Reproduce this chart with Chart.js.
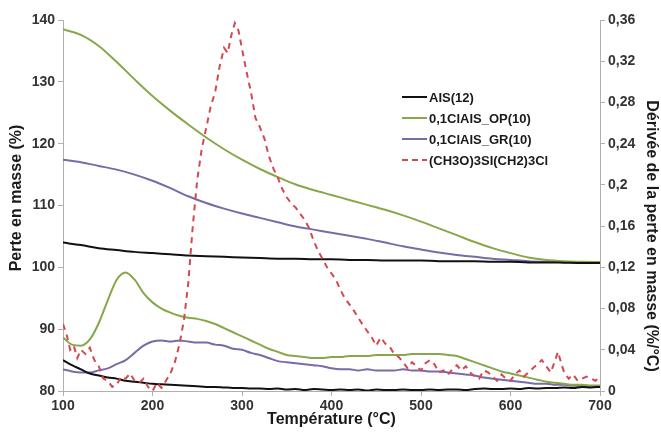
<!DOCTYPE html>
<html><head><meta charset="utf-8">
<script src="https://cdn.jsdelivr.net/npm/chart.js@4.4.0/dist/chart.umd.min.js"></script>
<style>html,body{margin:0;padding:0;background:#fff;}#wrap{width:661px;height:434px;}</style>
</head><body><div id="wrap"><canvas id="c" width="661" height="434"></canvas></div>
<script>
// ---- Data ----
const seriesNames = ["AIS(12)", "0,1ClAIS_OP(10)", "0,1ClAIS_GR(10)", "(CH3O)3SI(CH2)3Cl"];
const axisTitles = ["Température (°C)", "Perte en masse (%)", "Dérivée de la perte en masse (%/°C)"];
const xTicks = [100, 200, 300, 400, 500, 600, 700];
const leftTicks = [80, 90, 100, 110, 120, 130, 140];
const rightTicks = [0, 0.04, 0.08, 0.12, 0.16, 0.2, 0.24, 0.28, 0.32, 0.36];

// mass-loss curves (left axis), temperature every 20 °C
const tMass = [100,120,140,160,180,200,220,240,260,280,300,320,340,360,380,400,420,440,460,480,500,520,540,560,580,600,620,640,660,680,700];
const massAIS = [104.0,103.6,103.1,102.8,102.5,102.3,102.1,101.9,101.8,101.7,101.6,101.5,101.4,101.4,101.3,101.3,101.2,101.2,101.1,101.1,101.1,101.0,101.0,101.0,100.9,100.9,100.8,100.8,100.75,100.7,100.7];
const massOP  = [138.5,137.6,135.8,133.2,130.4,127.7,125.3,123.1,121.0,119.1,117.4,115.9,114.6,113.4,112.5,111.7,110.9,110.1,109.3,108.4,107.4,106.3,105.2,104.1,103.1,102.3,101.6,101.2,101.0,100.9,100.85];
const massGR  = [117.4,117.0,116.4,115.8,115.0,114.0,112.8,111.5,110.4,109.5,108.7,108.0,107.3,106.6,106.1,105.6,105.1,104.6,104.0,103.4,102.9,102.4,102.0,101.7,101.4,101.2,101.0,100.9,100.85,100.8,100.75];

// derivative curves (right axis), temperature every 10 °C
const tDeriv = [100,110,120,130,140,150,160,170,180,190,200,210,220,230,240,250,260,270,280,290,300,310,320,330,340,350,360,370,380,390,400,410,420,430,440,450,460,470,480,490,500,510,520,530,540,550,560,570,580,590,600,610,620,630,640,650,660,670,680,690,700];
const derivAIS = [0.030,0.025,0.021,0.017,0.015,0.013,0.012,0.010,0.009,0.008,0.007,0.0065,0.006,0.0055,0.005,0.0045,0.004,0.004,0.0035,0.003,0.003,0.0025,0.0025,0.002,0.0025,0.0015,0.002,0.001,0.002,0.0015,0.001,0.0015,0.001,0.0015,0.0005,0.0015,0.001,0.001,0.0015,0.001,0.001,0.0015,0.001,0.0015,0.0015,0.001,0.002,0.0025,0.002,0.002,0.0025,0.002,0.003,0.0025,0.003,0.003,0.0035,0.003,0.004,0.0035,0.004];
const derivOP = [0.052,0.045,0.044,0.050,0.066,0.088,0.108,0.115,0.108,0.095,0.086,0.080,0.076,0.073,0.071,0.070,0.068,0.065,0.061,0.057,0.053,0.049,0.045,0.041,0.038,0.035,0.034,0.033,0.032,0.032,0.033,0.033,0.034,0.034,0.034,0.035,0.035,0.035,0.035,0.036,0.036,0.036,0.036,0.035,0.034,0.031,0.028,0.025,0.022,0.019,0.017,0.015,0.013,0.011,0.009,0.008,0.007,0.006,0.006,0.005,0.005];
const derivGR = [0.021,0.019,0.018,0.018,0.020,0.022,0.026,0.030,0.037,0.044,0.048,0.049,0.048,0.049,0.048,0.047,0.047,0.045,0.044,0.041,0.040,0.037,0.035,0.032,0.029,0.028,0.027,0.026,0.025,0.024,0.022,0.021,0.021,0.020,0.021,0.020,0.020,0.020,0.021,0.020,0.020,0.019,0.019,0.018,0.017,0.016,0.015,0.013,0.012,0.011,0.010,0.009,0.008,0.007,0.007,0.006,0.006,0.005,0.005,0.005,0.005];

// silane derivative (right axis)
const tSilane = [100,104,108,112,116,120,125,130,135,140,145,150,155,160,165,170,175,180,185,190,195,200,205,210,215,220,225,230,235,240,245,250,255,260,265,270,275,280,284,288,292,296,300,305,310,315,320,325,330,335,340,345,350,355,360,365,370,375,380,385,390,395,400,405,410,415,420,425,430,435,440,445,450,455,460,465,470,475,480,485,490,495,500,505,510,515,520,525,530,535,540,545,550,555,560,565,570,575,580,585,590,595,600,605,610,615,620,625,630,635,640,645,650,653,657,660,665,670,675,680,685,690,695,700];
const derivSilane = [0.065,0.055,0.040,0.044,0.032,0.040,0.036,0.042,0.030,0.024,0.012,0.010,0.004,0.006,0.014,0.012,0.017,0.010,0.008,0.012,0.004,0.000,0.008,0.003,0.010,0.017,0.028,0.045,0.068,0.105,0.160,0.205,0.235,0.255,0.276,0.290,0.315,0.333,0.328,0.345,0.357,0.350,0.332,0.310,0.290,0.265,0.256,0.245,0.228,0.216,0.207,0.196,0.188,0.182,0.178,0.172,0.166,0.158,0.146,0.136,0.128,0.120,0.114,0.108,0.098,0.090,0.084,0.078,0.071,0.064,0.058,0.052,0.044,0.052,0.046,0.043,0.036,0.033,0.028,0.022,0.028,0.024,0.020,0.027,0.030,0.026,0.018,0.020,0.016,0.021,0.025,0.020,0.024,0.018,0.014,0.012,0.020,0.018,0.014,0.010,0.016,0.012,0.010,0.016,0.020,0.014,0.018,0.022,0.026,0.030,0.024,0.018,0.030,0.038,0.026,0.018,0.012,0.016,0.010,0.012,0.014,0.012,0.010,0.014];

// ---- Chart ----
const colAIS = '#111111', colOP = '#86a84a', colGR = '#7a6aa8', colSil = '#d24a50';
const pts = (xs, ys) => xs.map((x, i) => ({x: x, y: ys[i]}));
const fontFam = "'Liberation Sans', Arial, sans-serif";

const legendPlugin = {
  id: 'customLegend',
  afterDraw(chart) {
    const ctx = chart.ctx;
    const items = [
      {label: seriesNames[0], color: colAIS, dash: []},
      {label: seriesNames[1], color: colOP, dash: []},
      {label: seriesNames[2], color: colGR, dash: []},
      {label: seriesNames[3], color: colSil, dash: [6, 4]}
    ];
    const x0 = 402, lineW = 25, y0 = 97, dy = 21;
    ctx.save();
    ctx.font = "bold 13px " + fontFam;
    ctx.textBaseline = 'middle';
    ctx.textAlign = 'left';
    items.forEach((it, i) => {
      const y = y0 + i * dy;
      ctx.beginPath();
      ctx.setLineDash(it.dash);
      ctx.strokeStyle = it.color;
      ctx.lineWidth = 2;
      ctx.moveTo(x0, y); ctx.lineTo(x0 + lineW, y);
      ctx.stroke();
      ctx.setLineDash([]);
      ctx.fillStyle = '#1a1a1a';
      ctx.fillText(it.label, x0 + lineW + 2, y + 1);
    });
    // vertical axis titles
    ctx.font = "bold 16px " + fontFam;
    ctx.textAlign = 'center';
    ctx.fillStyle = '#1a1a1a';
    ctx.save();
    ctx.translate(17, 198);
    ctx.rotate(-Math.PI / 2);
    ctx.fillText(axisTitles[1], 0, 0);
    ctx.restore();
    ctx.save();
    ctx.translate(651, 236);
    ctx.rotate(Math.PI / 2);
    ctx.fillText(axisTitles[2], 0, 0);
    ctx.restore();
    ctx.restore();
  }
};

const axisGrid = {display: true, drawOnChartArea: false, drawTicks: true, tickLength: 5, color: '#b0b0b0'};
const tickFont = {family: fontFam, size: 14, weight: 'bold'};
const titleFont = {family: fontFam, size: 16, weight: 'bold'};

new Chart(document.getElementById('c'), {
  type: 'line',
  data: {
    datasets: [
      {label: seriesNames[3] + ' d', data: pts(tSilane, derivSilane), yAxisID: 'y1', borderColor: colSil, borderWidth: 2, borderDash: [6, 5], pointRadius: 0, tension: 0, fill: false},
      {label: seriesNames[0], data: pts(tMass, massAIS), yAxisID: 'y', borderColor: colAIS, borderWidth: 2, pointRadius: 0, cubicInterpolationMode: 'monotone', fill: false},
      {label: seriesNames[1], data: pts(tMass, massOP), yAxisID: 'y', borderColor: colOP, borderWidth: 2, pointRadius: 0, cubicInterpolationMode: 'monotone', fill: false},
      {label: seriesNames[2], data: pts(tMass, massGR), yAxisID: 'y', borderColor: colGR, borderWidth: 2, pointRadius: 0, cubicInterpolationMode: 'monotone', fill: false},
      {label: seriesNames[0] + ' d', data: pts(tDeriv, derivAIS), yAxisID: 'y1', borderColor: colAIS, borderWidth: 2, pointRadius: 0, cubicInterpolationMode: 'monotone', fill: false},
      {label: seriesNames[1] + ' d', data: pts(tDeriv, derivOP), yAxisID: 'y1', borderColor: colOP, borderWidth: 2, pointRadius: 0, cubicInterpolationMode: 'monotone', fill: false},
      {label: seriesNames[2] + ' d', data: pts(tDeriv, derivGR), yAxisID: 'y1', borderColor: colGR, borderWidth: 2, pointRadius: 0, cubicInterpolationMode: 'monotone', fill: false}
    ]
  },
  options: {
    responsive: false,
    animation: false,
    devicePixelRatio: 1,
    layout: {padding: {top: 20, left: 0, right: 0, bottom: 0}},
    plugins: {legend: {display: false}, tooltip: {enabled: false}},
    scales: {
      x: {
        type: 'linear', min: xTicks[0], max: xTicks[xTicks.length - 1],
        afterBuildTicks: s => { s.ticks = xTicks.map(v => ({value: v})); },
        ticks: {font: tickFont, color: '#333', padding: 2, maxRotation: 0},
        grid: axisGrid, border: {display: true, color: '#b0b0b0'},
        title: {display: true, text: axisTitles[0], font: titleFont, color: '#1a1a1a', padding: {top: 0, bottom: 5}},
        afterFit: s => { s.height = 43; }
      },
      y: {
        type: 'linear', position: 'left', min: leftTicks[0], max: leftTicks[leftTicks.length - 1],
        afterBuildTicks: s => { s.ticks = leftTicks.map(v => ({value: v})); },
        ticks: {font: tickFont, color: '#333', padding: 3},
        grid: axisGrid, border: {display: true, color: '#b0b0b0'},
        title: {display: false},
        afterFit: s => { s.width = 63; }
      },
      y1: {
        type: 'linear', position: 'right', min: rightTicks[0], max: rightTicks[rightTicks.length - 1],
        afterBuildTicks: s => { s.ticks = rightTicks.map(v => ({value: v})); },
        ticks: {font: tickFont, color: '#333', padding: 3,
          callback: v => String(Math.round(v * 100) / 100).replace('.', ',')},
        grid: axisGrid, border: {display: true, color: '#b0b0b0'},
        title: {display: false},
        afterFit: s => { s.width = 61; }
      }
    }
  },
  plugins: [legendPlugin]
});
</script>
</body></html>
